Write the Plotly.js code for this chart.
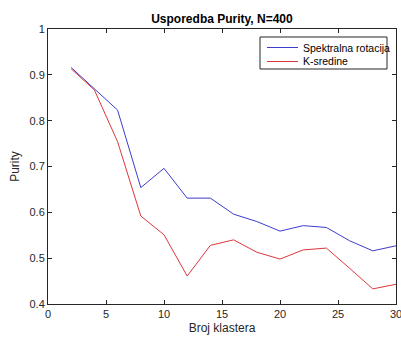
<!DOCTYPE html>
<html>
<head>
<meta charset="utf-8">
<script src="https://cdn.plot.ly/plotly-3.0.1.min.js"></script>
<style>html,body{margin:0;padding:0;background:#fff;}#chart{width:401px;height:338px;}</style>
</head>
<body>
<div id="chart"></div>
<script>
const clusters = [2,4,6,8,10,12,14,16,18,20,22,24,26,28,30];
const spektralna = [0.916,0.870,0.823,0.654,0.696,0.631,0.631,0.596,0.580,0.559,0.571,0.567,0.538,0.516,0.527];
const ksredine = [0.913,0.867,0.754,0.592,0.551,0.461,0.528,0.540,0.513,0.498,0.518,0.522,0.478,0.433,0.443];
const seriesNames = ['Spektralna rotacija','K-sredine'];
const seriesColors = ['rgb(60,60,205)','rgb(220,55,60)'];
const xTicks = [0,5,10,15,20,25,30];
const yTicks = [0.4,0.5,0.6,0.7,0.8,0.9,1];
const yTickText = ['0.4','0.5','0.6','0.7','0.8','0.9','1'];

const FONT = 'Liberation Sans, Arial, sans-serif';
const traces = [
  {x: clusters, y: spektralna, name: seriesNames[0], type:'scatter', mode:'lines',
   line:{color:seriesColors[0], width:1}},
  {x: clusters, y: ksredine, name: seriesNames[1], type:'scatter', mode:'lines',
   line:{color:seriesColors[1], width:1}}
];
const axisCommon = {
  showgrid:false, zeroline:false, showline:true, linecolor:'#262626', linewidth:1,
  mirror:'ticks', ticks:'inside', ticklen:4, tickcolor:'#262626', tickwidth:1,
  ticklabeloverflow:'allow',
  tickfont:{family:FONT, size:11, color:'#262626'}
};

// Manual MATLAB-style legend (paper coordinates of the plot area)
const W = 348, H = 275; // plot area size in px
const px = v => v / W, py = v => 1 - v / H;
const shapes = [
  {type:'rect', xref:'paper', yref:'paper', x0:px(212), x1:px(339), y0:py(40), y1:py(8),
   line:{color:'#262626', width:1}, fillcolor:'#fff', layer:'above'}
];
const annotations = [];
const rowY = [18.5, 32.5];
seriesNames.forEach((n, i) => {
  shapes.push({type:'line', xref:'paper', yref:'paper', x0:px(219), x1:px(250), y0:py(rowY[i]), y1:py(rowY[i]),
    line:{color:seriesColors[i], width:1}, layer:'above'});
  annotations.push({xref:'paper', yref:'paper', x:px(253), y:py(rowY[i]), xanchor:'left', yanchor:'middle',
    text:n, showarrow:false, font:{family:FONT, size:10.5, color:'#000'}});
});

const layout = {
  width:401, height:338,
  margin:{l:48, r:5, t:29, b:34},
  paper_bgcolor:'#fff', plot_bgcolor:'#fff',
  title:{text:'<b>Usporedba Purity, N=400</b>', x:0.5535, xanchor:'center', y:0.943, yanchor:'middle',
    font:{family:FONT, size:12, color:'#000'}},
  xaxis: Object.assign({}, axisCommon, {range:[0,30], tickvals:xTicks,
    title:{text:'Broj klastera', standoff:4, font:{family:FONT, size:12, color:'#262626'}}}),
  yaxis: Object.assign({}, axisCommon, {range:[0.4,1], tickvals:yTicks, ticktext:yTickText,
    title:{text:'Purity', standoff:7, font:{family:FONT, size:12, color:'#262626'}}}),
  showlegend:false,
  shapes: shapes,
  annotations: annotations
};
Plotly.newPlot('chart', traces, layout, {displayModeBar:false, staticPlot:true});
</script>
</body>
</html>
